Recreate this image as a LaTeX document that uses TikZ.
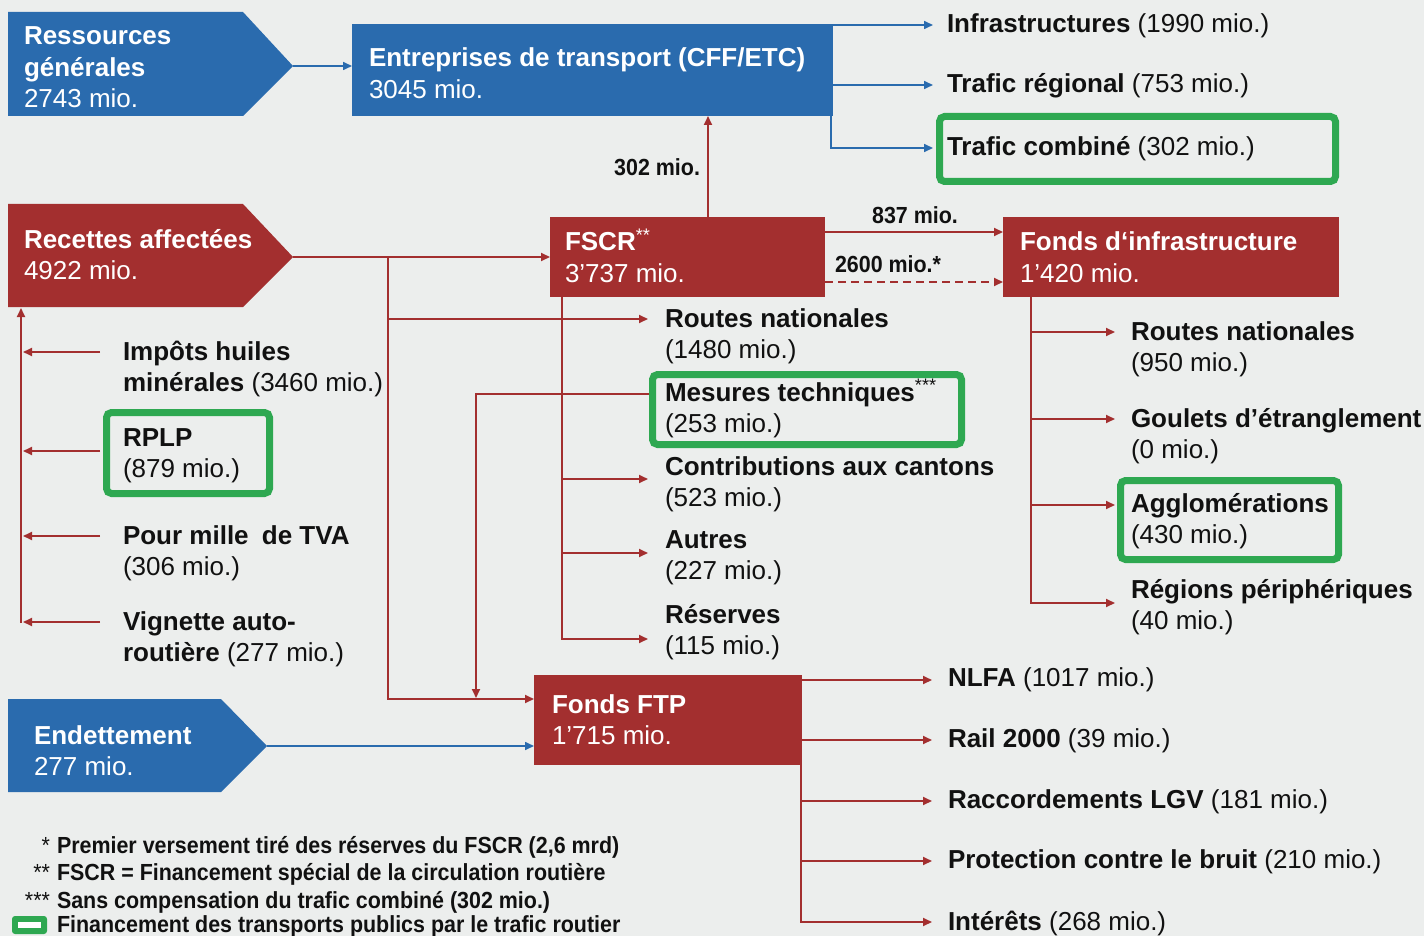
\documentclass[tikz,border=0pt]{standalone}
\usepackage{fontspec}
\setmainfont{Liberation Sans}
\newfontfamily\condf[FakeStretch=0.92]{Liberation Sans}
\usetikzlibrary{arrows.meta,calc}
\definecolor{bg}{HTML}{ECEEED}
\definecolor{cblue}{HTML}{2A6BAE}
\definecolor{cred}{HTML}{A32F2F}
\definecolor{cgreen}{HTML}{2EA851}
\definecolor{ctext}{HTML}{111111}
\newcommand\twol[2]{\begin{tabular}[t]{@{}l@{}}#1\\#2\end{tabular}}
\newcommand\thrl[3]{\begin{tabular}[t]{@{}l@{}}#1\\#2\\#3\end{tabular}}
\newcommand\sst[1]{\textsuperscript{\mdseries #1}}
\begin{document}
\begin{tikzpicture}[x=1pt,y=-1pt,
  txt/.style={inner sep=0pt, outer sep=0pt, anchor=base west, text=ctext, font=\fontsize{26}{31.5}\selectfont},
  wtxt/.style={txt, text=white},
  lab/.style={inner sep=0pt, outer sep=0pt, anchor=base, text=ctext, font=\condf\fontsize{23.3}{27}\selectfont\bfseries},
  leg/.style={lab, anchor=base west},
  boxn/.style={inner sep=0pt, outer sep=0pt, anchor=north west, draw=none},
  rline/.style={draw=cred, line width=1.8pt},
  rarr/.style={rline, -{Triangle[length=9pt,width=8pt]}},
  bline/.style={draw=cblue, line width=1.6pt},
  barr/.style={bline, -{Triangle[length=9pt,width=8pt]}},
  gbox/.style={draw=cgreen, line width=7pt, rounded corners=5pt},
]
\useasboundingbox (0,0) rectangle (1424,936);
\fill[bg] (0,0) rectangle (1424,936);

% ---- boxes
\node[boxn, fill=cblue, minimum width=481pt, minimum height=92pt] (ent) at (352,24) {};
\node[boxn, fill=cred, minimum width=275pt, minimum height=80pt] (fscr) at (550,217) {};
\node[boxn, fill=cred, minimum width=336pt, minimum height=80pt] (finf) at (1003,217) {};
\node[boxn, fill=cred, minimum width=268pt, minimum height=90pt] (fftp) at (534,675) {};

\fill[cblue] (8,12) -- (243,12) -- (293,66) -- (243,116) -- (8,116) -- cycle;
\coordinate (resTip) at (293,66);
\fill[cred] (8,204) -- (243,204) -- (293,257) -- (243,307) -- (8,307) -- cycle;
\coordinate (recTip) at (293,257);
\coordinate (recBot) at (21,308);
\fill[cblue] (8,699) -- (221,699) -- (267,746) -- (221,792) -- (8,792) -- cycle;
\coordinate (endTip) at (267,746);

% ---- box texts
\node[wtxt] (resT) at (24,45) {\thrl{\textbf{Ressources}}{\textbf{générales}}{2743 mio.}};
\node[wtxt] (recT) at (24,248) {\twol{\textbf{Recettes affectées}}{4922 mio.}};
\node[wtxt] (endT) at (34,744) {\twol{\textbf{Endettement}}{277 mio.}};
\node[wtxt] (entT) at (369,67) {\twol{\textbf{Entreprises de transport (CFF/ETC)}}{3045 mio.}};
\node[wtxt] (fscrT) at (565,251) {\twol{\textbf{FSCR}\sst{**}}{3’737 mio.}};
\node[wtxt] (finfT) at (1020,251) {\twol{\textbf{Fonds d‘infrastructure}}{1’420 mio.}};
\node[wtxt] (fftpT) at (552,713) {\twol{\textbf{Fonds FTP}}{1’715 mio.}};

% ---- top right
\node[txt] (infra) at (947,33) {\textbf{Infrastructures} (1990 mio.)};
\node[txt] (treg) at (947,93) {\textbf{Trafic régional} (753 mio.)};
\node[txt] (tcomb) at (947,156) {\textbf{Trafic combiné} (302 mio.)};
\draw[gbox] (939.5,116.5) rectangle (1335.5,181.5);

\draw[barr] (resTip) -- (resTip -| ent.west);
\draw[barr] ($(ent.north east)+(0,1)$) -- ($(infra.base west)+(-14,-8)$);
\draw[barr] ($(ent.north east)+(0,61)$) -- ($(treg.base west)+(-14,-8)$);
\draw[barr] ($(ent.south east)+(-2,0)$) |- ($(tcomb.base west)+(-14,-8)$);

% ---- FSCR links
\draw[rarr] ($(fscr.north west)+(158,0)$) -- ($(ent.south west)+(356,0)$);
\node[lab, anchor=base east] (l302) at (700,176) {302 mio.};
\draw[rarr] (recTip) -- (recTip -| fscr.west);
\draw[rarr] ($(fscr.north east)+(0,15)$) -- ($(finf.north west)+(0,15)$);
\node[lab] (l837) at (915,223) {837 mio.};
\draw[rarr, dash pattern=on 8pt off 5pt] ($(fscr.south east)+(0,-15)$) -- ($(finf.south west)+(0,-15)$);
\node[lab, anchor=base west] (l2600) at (835,272) {2600 mio.*};

% ---- middle list
\node[txt] (rnm) at (665,327) {\twol{\textbf{Routes nationales}}{(1480 mio.)}};
\node[txt] (mt) at (665,401) {\twol{\textbf{Mesures techniques}\sst{***}}{(253 mio.)}};
\node[txt] (cc) at (665,475) {\twol{\textbf{Contributions aux cantons}}{(523 mio.)}};
\node[txt] (au) at (665,548) {\twol{\textbf{Autres}}{(227 mio.)}};
\node[txt] (rs) at (665,623) {\twol{\textbf{Réserves}}{(115 mio.)}};
\draw[gbox] (652.5,374.5) rectangle (961.5,444.5);

\coordinate (rv) at (388,257);
\draw[rarr] (rv) |- ($(fftp.north west)+(0,24)$);
\draw[rarr] ($(rv)+(0,62)$) -- ($(rnm.base west)+(-17,-8)$);

\coordinate (fv) at ($(fscr.south west)+(12,0)$);
\draw[rarr] (fv) |- ($(rs.base west)+(-17,16)$);
\draw[rarr] ($(fv)+(0,182)$) -- ($(cc.base west)+(-17,4)$);
\draw[rarr] ($(fv)+(0,256)$) -- ($(au.base west)+(-17,5)$);

\draw[rarr] ($(mt.base west)+(-16,-7)$) -| ($(fftp.north west)+(-58,23)$);

% ---- Fonds d'infrastructure list
\node[txt] (irn) at (1131,340) {\twol{\textbf{Routes nationales}}{(950 mio.)}};
\node[txt] (igo) at (1131,427) {\twol{\textbf{Goulets d’étranglement}}{(0 mio.)}};
\node[txt] (iag) at (1131,512) {\twol{\textbf{Agglomérations}}{(430 mio.)}};
\node[txt] (irp) at (1131,598) {\twol{\textbf{Régions périphériques}}{(40 mio.)}};
\draw[gbox] (1120.5,480.5) rectangle (1338.5,559.5);

\coordinate (iv) at ($(finf.south west)+(28,0)$);
\draw[rarr] (iv) |- ($(irp.base west)+(-16,5)$);
\draw[rarr] ($(iv)+(0,35)$) -- ($(irn.base west)+(-16,-8)$);
\draw[rarr] ($(iv)+(0,122)$) -- ($(igo.base west)+(-16,-8)$);
\draw[rarr] ($(iv)+(0,208)$) -- ($(iag.base west)+(-16,-7)$);

% ---- left list
\node[txt] (imp) at (123,360) {\twol{\textbf{Impôts huiles}}{\textbf{minérales} (3460 mio.)}};
\node[txt] (rplp) at (123,446) {\twol{\textbf{RPLP}}{(879 mio.)}};
\node[txt] (tva) at (123,544) {\twol{\textbf{Pour mille\hspace{6pt} de TVA}}{(306 mio.)}};
\node[txt] (vig) at (123,630) {\twol{\textbf{Vignette auto-}}{\textbf{routière} (277 mio.)}};
\draw[gbox] (106.5,412.5) rectangle (269.5,493.5);

\draw[rarr] ($(vig.base west)+(-102,-7)$) -- (recBot);
\draw[rarr] ($(imp.base west)+(-23,-8)$) -- ($(imp.base west)+(-100,-8)$);
\draw[rarr] ($(rplp.base west)+(-23,5)$) -- ($(rplp.base west)+(-100,5)$);
\draw[rarr] ($(tva.base west)+(-23,-8)$) -- ($(tva.base west)+(-100,-8)$);
\draw[rarr] ($(vig.base west)+(-23,-8)$) -- ($(vig.base west)+(-100,-8)$);

% ---- Fonds FTP list
\node[txt] (nlfa) at (948,686) {\textbf{NLFA} (1017 mio.)};
\node[txt] (r2000) at (948,747) {\textbf{Rail 2000} (39 mio.)};
\node[txt] (lgv) at (948,808) {\textbf{Raccordements LGV} (181 mio.)};
\node[txt] (bruit) at (948,868) {\textbf{Protection contre le bruit} (210 mio.)};
\node[txt] (int) at (948,930) {\textbf{Intérêts} (268 mio.)};

\draw[rarr] ($(fftp.north east)+(0,5)$) -- ($(nlfa.base west)+(-16,-6)$);
\draw[rarr] ($(fftp.north east)+(0,65)$) -- ($(r2000.base west)+(-16,-7)$);
\coordinate (tv) at ($(fftp.south east)+(-1,0)$);
\draw[rarr] (tv) |- ($(int.base west)+(-16,-8)$);
\draw[rarr] ($(tv)+(0,36)$) -- ($(lgv.base west)+(-16,-7)$);
\draw[rarr] ($(tv)+(0,96)$) -- ($(bruit.base west)+(-16,-7)$);

\draw[barr] (endTip) -- (endTip -| fftp.west);

% ---- legend
\node[lab, anchor=base east, font=\condf\fontsize{23.3}{27}\selectfont] (s1) at (50,853) {*};
\node[leg] (lg1) at (57,853) {Premier versement tiré des réserves du FSCR (2,6 mrd)};
\node[lab, anchor=base east, font=\condf\fontsize{23.3}{27}\selectfont] (s2) at (50,880) {**};
\node[leg] (lg2) at (57,880) {FSCR = Financement spécial de la circulation routière};
\node[lab, anchor=base east, font=\condf\fontsize{23.3}{27}\selectfont] (s3) at (50,908) {***};
\node[leg] (lg3) at (57,908) {Sans compensation du trafic combiné (302 mio.)};
\node[leg] (lg4) at (57,932) {Financement des transports publics par le trafic routier};
\fill[cgreen, rounded corners=3pt] (12,916) rectangle (47,934);
\fill[white] (18,922) rectangle (41,928);
\end{tikzpicture}
\end{document}
